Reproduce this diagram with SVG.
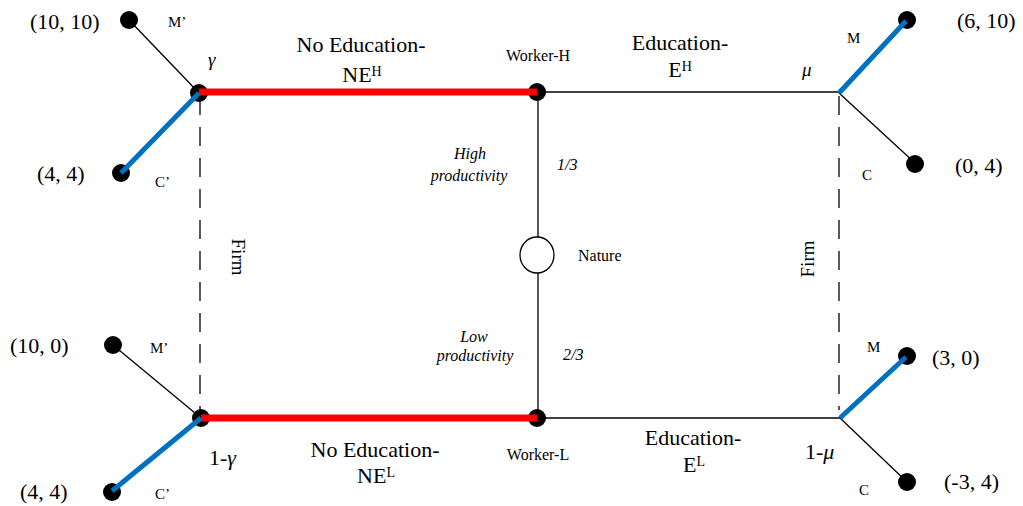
<svg xmlns="http://www.w3.org/2000/svg" width="1023" height="506" viewBox="0 0 1023 506">
  <style>
    text { font-family: "Liberation Serif", "Times New Roman", serif; fill: #000; }
    .big { font-size: 22px; }
    .sup { font-size: 14px; }
    .small { font-size: 15px; }
    .worker { font-size: 16px; }
    .ital { font-size: 16px; font-style: italic; }
    .greek { font-size: 19px; font-style: italic; }
    .firm { font-size: 19px; }
    .thin { stroke: #000; stroke-width: 1.3; fill: none; }
    .dash { stroke: #000; stroke-width: 1.3; stroke-dasharray: 19 12; fill: none; }
    .red { stroke: #ff0000; stroke-width: 7; fill: none; }
    .blue { stroke: #0070c0; stroke-width: 5; fill: none; }
    .dot { fill: #000; }
  </style>
  <rect width="1023" height="506" fill="#fff"/>

  <!-- thin and dashed connectors beneath the nodes -->
  <g id="connectors-base">
    <line class="thin" x1="129" y1="20" x2="199" y2="93"/>
    <line class="thin" x1="113" y1="345" x2="201" y2="418"/>
    <line class="thin" x1="538" y1="92" x2="839" y2="92"/>
    <line class="thin" x1="538" y1="418" x2="840" y2="418"/>
    <line class="thin" x1="839" y1="93" x2="915" y2="163"/>
    <line class="thin" x1="840" y1="418" x2="907" y2="482"/>
    <line class="thin" x1="538" y1="93" x2="538" y2="237"/>
    <line class="thin" x1="538" y1="273" x2="538" y2="418"/>
    <line class="dash" x1="200" y1="96" x2="200" y2="410"/>
    <line class="dash" x1="839" y1="96" x2="839" y2="410"/>
  </g>

  <!-- decision nodes -->
  <g id="node-gamma">
    <circle class="dot" cx="199" cy="93" r="9"/>
    <text class="greek" x="208" y="66">γ</text>
  </g>
  <g id="node-1-gamma">
    <circle class="dot" cx="201" cy="418" r="9"/>
    <text class="big" x="209" y="465">1-<tspan font-style="italic">γ</tspan></text>
  </g>
  <g id="node-worker-h">
    <circle class="dot" cx="537" cy="92" r="9"/>
    <text class="worker" x="538" y="61" text-anchor="middle">Worker-H</text>
  </g>
  <g id="node-worker-l">
    <circle class="dot" cx="537" cy="418" r="9"/>
    <text class="worker" x="538" y="460" text-anchor="middle">Worker-L</text>
  </g>
  <g id="node-nature">
    <ellipse cx="537" cy="255" rx="17" ry="18" fill="#fff" stroke="#000" stroke-width="1.3"/>
    <text class="worker" x="578" y="261" font-size="17">Nature</text>
  </g>
  <g id="node-mu">
    <text class="greek" x="802" y="76">μ</text>
  </g>
  <g id="node-1-mu">
    <text class="big" x="805" y="459">1-<tspan font-style="italic">μ</tspan></text>
  </g>

  <!-- terminal payoff nodes -->
  <g id="payoff-tl-m">
    <circle class="dot" cx="129" cy="20" r="9"/>
    <text class="big" x="30" y="29">(10, 10)</text>
    <text class="small" x="168" y="27">M’</text>
  </g>
  <g id="payoff-tl-c">
    <circle class="dot" cx="121" cy="173" r="9"/>
    <text class="big" x="37" y="181">(4, 4)</text>
    <text class="small" x="155" y="187">C’</text>
  </g>
  <g id="payoff-bl-m">
    <circle class="dot" cx="113" cy="345" r="9"/>
    <text class="big" x="10" y="353">(10, 0)</text>
    <text class="small" x="150" y="353">M’</text>
  </g>
  <g id="payoff-bl-c">
    <circle class="dot" cx="112" cy="492" r="9"/>
    <text class="big" x="20" y="499">(4, 4)</text>
    <text class="small" x="155" y="499">C’</text>
  </g>
  <g id="payoff-tr-m">
    <circle class="dot" cx="907" cy="20" r="9"/>
    <text class="big" x="957" y="28">(6, 10)</text>
    <text class="small" x="847" y="43">M</text>
  </g>
  <g id="payoff-tr-c">
    <circle class="dot" cx="915" cy="164" r="9"/>
    <text class="big" x="955" y="173">(0, 4)</text>
    <text class="small" x="862" y="180">C</text>
  </g>
  <g id="payoff-br-m">
    <circle class="dot" cx="907" cy="356" r="9"/>
    <text class="big" x="932" y="365">(3, 0)</text>
    <text class="small" x="867" y="352">M</text>
  </g>
  <g id="payoff-br-c">
    <circle class="dot" cx="907" cy="482" r="9"/>
    <text class="big" x="944" y="489">(-3, 4)</text>
    <text class="small" x="859" y="495">C</text>
  </g>

  <!-- highlighted equilibrium paths drawn over the nodes -->
  <g id="connectors-highlight">
    <line class="red" x1="199" y1="92" x2="537" y2="92"/>
    <line class="red" x1="201" y1="418" x2="537" y2="418"/>
    <line class="blue" x1="199" y1="93" x2="121" y2="173"/>
    <line class="blue" x1="201" y1="418" x2="112" y2="491"/>
    <line class="blue" x1="839" y1="93" x2="906" y2="21"/>
    <line class="blue" x1="840" y1="418" x2="906" y2="357"/>
  </g>

  <!-- branch labels -->
  <g id="labels">
    <text class="big" x="361" y="52" text-anchor="middle">No Education-</text>
    <text class="big" x="362" y="82" text-anchor="middle">NE<tspan class="sup" dy="-6">H</tspan></text>
    <text class="big" x="680" y="50" text-anchor="middle">Education-</text>
    <text class="big" x="680" y="77" text-anchor="middle">E<tspan class="sup" dy="-6">H</tspan></text>
    <text class="big" x="375" y="457" text-anchor="middle">No Education-</text>
    <text class="big" x="376" y="483" text-anchor="middle">NE<tspan class="sup" dy="-6">L</tspan></text>
    <text class="big" x="693" y="445" text-anchor="middle">Education-</text>
    <text class="big" x="694" y="472" text-anchor="middle">E<tspan class="sup" dy="-6">L</tspan></text>

    <text class="ital" x="470" y="159" text-anchor="middle">High</text>
    <text class="ital" x="469" y="181" text-anchor="middle">productivity</text>
    <text class="ital" x="557" y="170">1/3</text>
    <text class="ital" x="474" y="342" text-anchor="middle">Low</text>
    <text class="ital" x="475" y="361" text-anchor="middle">productivity</text>
    <text class="ital" x="563" y="360">2/3</text>

    <text class="firm" transform="translate(232 257) rotate(90)" text-anchor="middle">Firm</text>
    <text class="firm" transform="translate(814 259) rotate(-90)" text-anchor="middle">Firm</text>
  </g>
</svg>
